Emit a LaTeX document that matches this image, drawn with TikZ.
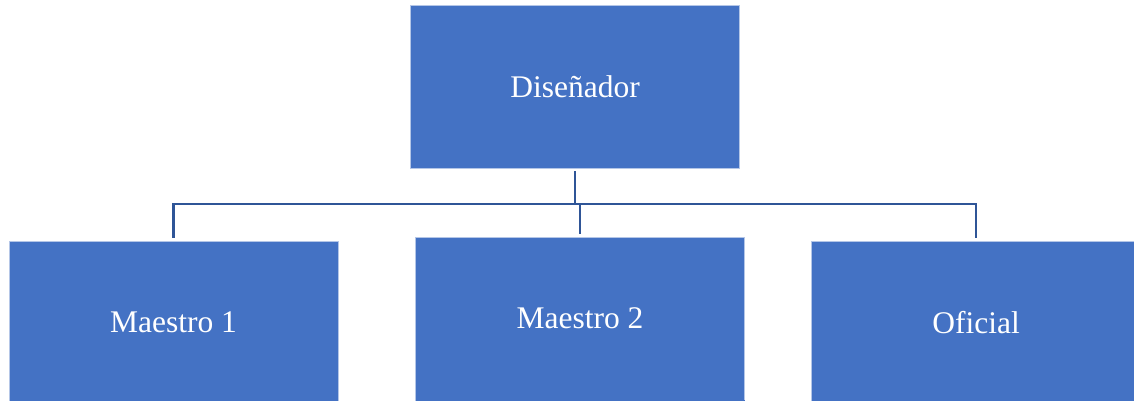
\documentclass[tikz,border=0pt]{standalone}
\usepackage{fontspec}
\setmainfont{Liberation Serif}
\definecolor{boxblue}{HTML}{4472C4}
\definecolor{linkblue}{HTML}{2F5597}
\definecolor{edgeblue}{HTML}{B4C6E7}
\begin{document}
\begin{tikzpicture}[x=1pt,y=-1pt,
  box/.style={rectangle, fill=boxblue, draw=edgeblue, line width=0.8pt,
    minimum width=329pt, minimum height=163pt, inner sep=0pt,
    text=white, font=\fontsize{31.5}{36}\selectfont},
  conn/.style={draw=linkblue, line width=2.2pt}]
\useasboundingbox (0,0) rectangle (1134,400);
\node[box] (top) at (575,86.5) {Diseñador};
\node[box] (m1) at (173.5,322.5) {Maestro 1};
\node[box] (m2) at (580,318.5) {Maestro 2};
\node[box] (of) at (976,322.5) {Oficial};
\fill[boxblue] ([xshift=0.4pt,yshift=0.4pt]m2.south west) rectangle ([xshift=-0.4pt,yshift=-10pt]m2.south east);
\coordinate (bus) at (0,204);
\draw[conn] ([yshift=-3pt]top.south) -- (top.south |- bus) -- ++(4,0);
\draw[conn] ([yshift=3pt]m1.north) -- (m1.north |- bus) -- (of.north |- bus) -- ([yshift=3pt]of.north);
\draw[conn] (m2.north |- bus) -- ([yshift=3pt]m2.north);
\end{tikzpicture}
\end{document}
